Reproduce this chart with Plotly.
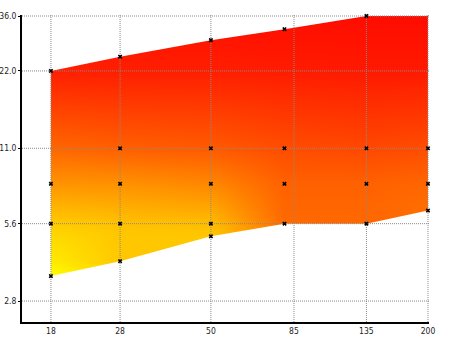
import plotly.graph_objects as go
import math

# ---- data ----
focal = [18, 28, 50, 80, 135, 200]
ap_top = [22, 25, 29, 32, 36, 36]
ap_bottom = [3.5, 4, 5, 5.6, 5.6, 6.3]

marker_x = [18, 18, 18, 18,
            28, 28, 28, 28, 28,
            50, 50, 50, 50, 50,
            80, 80, 80, 80,
            135, 135, 135, 135,
            200, 200, 200]
marker_y = [3.5, 5.6, 8, 22,
            4, 5.6, 8, 11, 25,
            5, 5.6, 8, 11, 29,
            5.6, 8, 11, 32,
            5.6, 8, 11, 36,
            6.3, 8, 11]

grid_y = [3.5, 4, 5, 5.6, 6.3, 8, 11, 22, 36]
grid_z = [
    [0.00, 0.15, 0.20, 0.40, 0.55, 0.60],
    [0.08, 0.22, 0.22, 0.45, 0.57, 0.60],
    [0.15, 0.22, 0.22, 0.50, 0.58, 0.58],
    [0.20, 0.24, 0.26, 0.58, 0.60, 0.58],
    [0.27, 0.30, 0.33, 0.60, 0.60, 0.57],
    [0.42, 0.43, 0.47, 0.62, 0.62, 0.60],
    [0.60, 0.63, 0.65, 0.70, 0.72, 0.70],
    [0.88, 0.88, 0.88, 0.89, 0.90, 0.90],
    [0.95, 0.95, 0.95, 0.95, 0.95, 0.95],
]

x_ticks = [18, 28, 50, 85, 135, 200]
x_ticktext = ["18", "28", "50", "85", "135", "200"]
y_ticks = [2.8, 5.6, 11, 22, 36]
y_ticktext = ["2.8", "5.6", "11.0", "22.0", "36.0"]

x_range = [1.1751, 2.3039]
y_range = [0.3655, 1.5602]

xmin, xmax = 10 ** x_range[0], 10 ** x_range[1]
ymin, ymax = 10 ** y_range[0], 10 ** y_range[1]

fig = go.Figure()

fig.add_trace(go.Heatmap(
    x=focal, y=grid_y, z=grid_z,
    zmin=0, zmax=1, zsmooth="best",
    colorscale=[[0, "#ffff00"], [0.5, "#ff8000"], [1, "#ff0000"]],
    showscale=False, hoverinfo="skip",
))

# white masks outside the region
far_l, far_r = xmin * 0.8, xmax * 1.2
far_b, far_t = ymin * 0.8, ymax * 1.2
masks = [
    ([far_l] + focal + [far_r, far_r, far_l],
     [ap_top[0]] + ap_top + [ap_top[-1], far_t, far_t]),
    ([far_l] + focal + [far_r, far_r, far_l],
     [ap_bottom[0]] + ap_bottom + [ap_bottom[-1], far_b, far_b]),
    ([far_l, focal[0], focal[0], far_l], [far_b, far_b, far_t, far_t]),
    ([focal[-1], far_r, far_r, focal[-1]], [far_b, far_b, far_t, far_t]),
]
for mx, my in masks:
    fig.add_trace(go.Scatter(x=mx, y=my, fill="toself", fillcolor="white",
                             mode="lines", line=dict(width=0),
                             hoverinfo="skip", showlegend=False))

# dotted grid lines drawn above the fill
gx, gy = [], []
for v in x_ticks:
    gx += [v, v, None]
    gy += [ymin, ymax, None]
for v in y_ticks:
    gx += [xmin, xmax, None]
    gy += [v, v, None]
fig.add_trace(go.Scatter(x=gx, y=gy, mode="lines",
                         line=dict(color="#8a8a8a", width=1, dash="1px,1px"),
                         hoverinfo="skip", showlegend=False))

fig.add_trace(go.Scatter(x=marker_x, y=marker_y, mode="markers",
                         marker=dict(symbol="x", size=4, color="black",
                                     line=dict(width=0)),
                         showlegend=False, cliponaxis=False))

font = dict(family="Liberation Sans Narrow, DejaVu Sans Condensed, Arial", size=8.5, color="#222")
fig.update_layout(
    width=450, height=337,
    margin=dict(l=22, r=21, t=15, b=15, autoexpand=False),
    paper_bgcolor="white", plot_bgcolor="white",
    showlegend=False,
    xaxis=dict(type="log", range=x_range, tickvals=x_ticks, ticktext=x_ticktext,
               showgrid=False, zeroline=False, showline=True, linecolor="black",
               linewidth=2, ticks="", tickfont=font, automargin=False),
    yaxis=dict(type="log", range=y_range, tickvals=y_ticks, ticktext=y_ticktext,
               showgrid=False, zeroline=False, showline=True, linecolor="black",
               linewidth=2, ticks="outside", ticklen=2, tickcolor="black",
               tickfont=font, automargin=False, ticklabelstandoff=0),
)

fig.write_html("out.html")
